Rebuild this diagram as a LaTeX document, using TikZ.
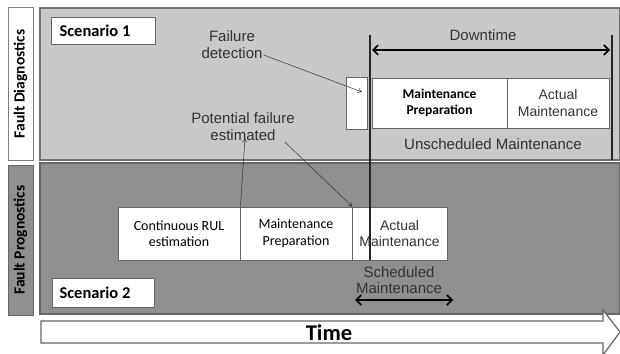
\documentclass[tikz,border=0pt]{standalone}
\usepackage{fontspec}
\setmainfont{Liberation Sans}
\newfontfamily\carlito{Carlito}
\usetikzlibrary{arrows.meta}
\definecolor{topfill}{HTML}{C8C8C8}
\definecolor{botfill}{HTML}{8F8F8F}
\definecolor{txt}{HTML}{333333}
\tikzset{
  whitebox/.style={draw=gray!80!black, fill=white, line width=0.8pt},
  lbl/.style={font=\fontsize{15}{17}\selectfont, text=txt, align=center, inner sep=0pt},
  boxtxt/.style={font=\carlito\fontsize{14}{16.5}\selectfont, text=black, align=center},
  boxtxtA/.style={font=\fontsize{14}{16.5}\selectfont, text=txt, align=center},
  scen/.style={font=\carlito\bfseries\fontsize{16.5}{18}\selectfont, anchor=west},
  side/.style={rotate=90, font=\carlito\bfseries\fontsize{15.5}{16}\selectfont},
  thinarr/.style={-{To[length=4pt,width=5pt]}, line width=0.5pt, black!80},
  bigarr/.style={{Straight Barb[length=5pt,width=10pt]}-{Straight Barb[length=5pt,width=10pt]}, line width=1.6pt, black},
  vline/.style={line width=1.6pt, black!85},
}
\begin{document}
\begin{tikzpicture}[x=1pt,y=-1pt]
\useasboundingbox (0,0) rectangle (620,353);
% side labels
\node[draw=gray, fill=white, line width=1pt, minimum width=25pt, minimum height=152pt, inner sep=0pt] (diag) at (20.5,84) {};
\node[side] (diagt) at (diag.center) {Fault Diagnostics};
\node[draw=black!60, fill=botfill, line width=1pt, minimum width=25pt, minimum height=150pt, inner sep=0pt] (prog) at (20.5,240) {};
\node[side] (progt) at (prog.center) {Fault Prognostics};
% panels
\filldraw[fill=topfill, draw=gray!90!black, line width=1.2pt] (40,8) rectangle (620,160);
\filldraw[fill=botfill, draw=black!60, line width=1.2pt] (40,163) rectangle (620,314);
% time arrow
\filldraw[fill=white, draw=gray!80!black, line width=1.2pt] (41,321) -- (603,321) -- (603,310) -- (620,332) -- (603,355) -- (603,343) -- (41,343) -- cycle;
\node[font=\carlito\bfseries\fontsize{22.5}{24}\selectfont] (time) at (329,333) {Time};
% scenario boxes
\node[whitebox, minimum width=104pt, minimum height=27pt, inner sep=0pt] (s1) at (103,30.5) {};
\node[scen] (s1t) at (56,30.5) {Scenario 1};
\node[whitebox, minimum width=102pt, minimum height=29pt, inner sep=0pt] (s2) at (103,292.5) {};
\node[scen] (s2t) at (56,292.5) {Scenario 2};
% top panel boxes
\node[whitebox, minimum width=21pt, minimum height=52pt, inner sep=0pt] (small) at (356.5,103) {};
\node[whitebox, minimum width=135pt, minimum height=50pt, inner sep=0pt, boxtxt, font=\carlito\bfseries\fontsize{13.5}{16.5}\selectfont] (mpt) at (439.5,103) {Maintenance\\Preparation};
\node[whitebox, minimum width=102pt, minimum height=50pt, inner sep=0pt, boxtxtA] (amt) at (558,103) {Actual\\Maintenance};
\node[lbl] (unsch) at (493,144) {Unscheduled Maintenance};
\node[lbl] (down) at (483,35) {Downtime};
\coordinate (dL) at (372,50);
\coordinate (dR) at (610,50);
\draw[bigarr] (dL) -- (dR);
\coordinate (vrTop) at (612,35);
\coordinate (vrBot) at (612,160);
\draw[vline] (vrTop) -- (vrBot);
% bottom panel boxes
\node[whitebox, minimum width=122pt, minimum height=53pt, inner sep=0pt, boxtxt] (rul) at (179,233.5) {Continuous RUL\\estimation};
\node[whitebox, minimum width=112pt, minimum height=53pt, inner sep=0pt, boxtxt] (mpb) at (296,233.5) {Maintenance\\Preparation};
\node[whitebox, minimum width=95pt, minimum height=53pt, inner sep=0pt, boxtxtA] (amb) at (399.5,233.5) {Actual\\Maintenance};
% main vertical line
\coordinate (vlTop) at (370,35);
\coordinate (vlBot) at (370,260);
\draw[vline] (vlTop) -- (vlBot);
\node[lbl, font=\fontsize{15}{16.5}\selectfont] (sched) at (399,280) {Scheduled\\Maintenance};
\coordinate (sL) at (355,300);
\coordinate (sR) at (453,300);
\draw[bigarr] (sL) -- (sR);
% annotations
\node[lbl] (fd) at (232,45) {Failure\\detection};
\node[lbl] (pf) at (243,127) {Potential failure\\estimated};
\coordinate (fdTip) at (362,92);
\draw[thinarr] ([xshift=1pt,yshift=-10pt]fd.east) -- (fdTip);
\draw[thinarr] ([xshift=-10pt,yshift=-15pt]pf.east) -- (mpb.north east);
\draw[thinarr] (rul.north east) -- ([xshift=2pt,yshift=3pt]pf.south);
\end{tikzpicture}
\end{document}
